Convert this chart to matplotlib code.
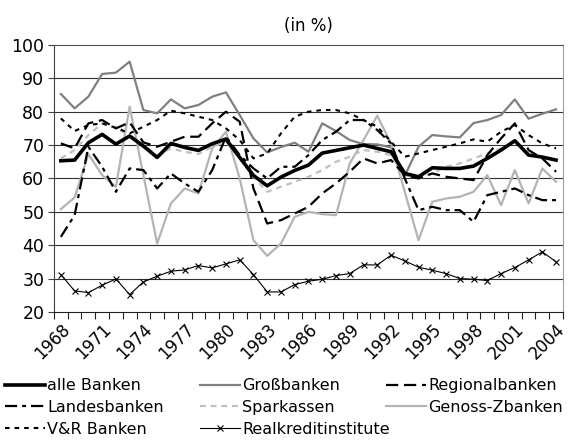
import matplotlib.pyplot as plt

plt.rcParams['font.family'] = ['DejaVu Sans']

years = list(range(1968, 2005))

alle_banken = [65.3, 65.5, 70.7, 73.2, 70.3, 72.7, 69.7, 66.3, 70.5, 69.3, 68.4, 70.4, 71.8, 66.3, 60.9, 57.8,
               60.4, 62.4, 64.0, 67.6, 68.4, 69.2, 70.0, 69.0, 68.0, 61.5, 60.5, 63.2, 63.0, 63.0, 63.7, 66.0,
               68.5, 71.3, 67.0, 66.4, 65.5]
grossbanken = [85.3, 81.0, 84.5, 91.3, 91.7, 95.0, 80.5, 79.5, 83.7, 81.0, 82.0, 84.5, 85.8, 79.0, 72.0, 67.8,
               69.4, 70.7, 68.0, 76.5, 74.2, 71.5, 70.3, 70.2, 69.3, 60.8, 69.5, 73.0, 72.6, 72.3, 76.6, 77.5,
               79.0, 83.7, 77.9, 79.4, 80.7]
regionalbanken = [70.5, 69.0, 76.5, 77.5, 75.0, 76.8, 70.8, 69.5, 71.0, 72.5, 72.5, 76.5, 80.0, 77.0, 57.0, 46.5,
                  47.5, 49.5, 51.5, 55.5, 58.5, 62.0, 66.0, 64.5, 65.5, 61.0, 60.0, 61.5, 60.5, 60.0, 59.5, 67.0,
                  72.0, 76.5, 68.5, 66.0, 62.0]
landesbanken = [42.5, 49.0, 69.5, 63.5, 56.0, 63.0, 62.5, 57.0, 61.5, 58.5, 56.0, 62.5, 72.5, 67.0, 63.0, 60.0,
                63.5, 63.5, 67.0, 71.5, 74.0, 77.5, 77.5, 74.5, 70.5, 60.0, 50.5, 51.5, 50.5, 50.5, 47.0, 55.0,
                56.0, 57.0, 55.0, 53.5, 53.5]
sparkassen = [66.0, 68.5, 73.0, 76.5, 75.0, 73.0, 70.0, 67.0, 69.0, 68.0, 67.3, 69.5, 71.0, 66.0, 60.5, 56.0,
              57.5, 59.0, 60.5, 62.5, 65.0, 66.5, 68.5, 68.0, 67.0, 61.0, 60.0, 61.5, 63.5, 64.5, 66.0, 67.5,
              69.0, 71.0, 67.5, 66.5, 65.5]
genoss_zbanken = [50.8, 54.3, 67.3, 61.0, 57.5, 81.5, 61.0, 40.5, 52.5, 57.0, 55.5, 69.0, 74.0, 60.0, 41.5, 36.8,
                  40.5, 48.5, 50.0, 49.3, 49.0, 64.5, 71.5, 78.8, 70.5, 56.0, 41.5, 53.0, 54.0, 54.5, 56.0, 61.0,
                  52.0, 62.5, 52.5, 63.0, 59.0]
vr_banken = [78.0, 74.2, 76.0, 76.5, 75.2, 73.5, 75.5, 77.5, 80.3, 79.5, 78.5, 77.5, 75.0, 71.5, 66.0, 67.5,
             73.5, 78.5, 80.0, 80.5, 80.5, 79.5, 77.5, 75.5, 71.0, 66.5, 67.5, 68.5, 69.5, 70.5, 71.7, 71.0,
             74.0, 76.0, 73.0, 70.5, 69.0]
realkredit = [31.2, 26.3, 25.8, 28.0, 29.9, 25.2, 29.0, 30.7, 32.2, 32.6, 33.9, 33.2, 34.4, 35.6, 31.2, 26.0,
              26.0, 28.2, 29.2, 29.8, 30.9, 31.5, 34.1, 34.1, 37.0, 35.3, 33.4, 32.5, 31.5, 30.0, 29.8, 29.4,
              31.5, 33.3, 35.6, 38.0, 35.0]

x = list(range(len(years)))

fig = plt.figure(figsize=(5.78, 4.45), dpi=100)
ax = fig.add_axes([0.0934, 0.299, 0.8806, 0.600])

# grid lines behind the data
for v in range(30, 100, 10):
    ax.axhline(v, color='#303030', lw=0.8, zorder=0)

ax.plot(x, grossbanken, color='#808080', lw=1.6, label='Großbanken')
ax.plot(x, genoss_zbanken, color='#b4b4b4', lw=1.6, label='Genoss-Zbanken')
ax.plot(x, sparkassen, color='#c0c0c0', lw=1.6, dashes=(2.6, 2.2), label='Sparkassen')
ax.plot(x, vr_banken, color='black', lw=1.5, dashes=(2.2, 2.4), label='V&R Banken')
ax.plot(x, landesbanken, color='black', lw=1.6, dashes=(5.5, 2.2, 1.8, 2.2), label='Landesbanken')
ax.plot(x, regionalbanken, color='black', lw=1.6, dashes=(5.5, 2.6), label='Regionalbanken')
ax.plot(x, alle_banken, color='black', lw=2.6, label='alle Banken')
ax.plot(x, realkredit, color='black', lw=0.8, marker='x', markersize=5, markeredgewidth=0.8,
        label='Realkreditinstitute')

ax.set_xlim(-0.5, len(years) - 0.5)
ax.set_ylim(20, 100)
ax.set_yticks(range(20, 101, 10))
ax.tick_params(axis='y', labelsize=12.5, length=4, width=0.8, color='#404040', pad=3)

ax.set_xticks(x[::3])
ax.set_xticklabels([str(y) for y in years[::3]], rotation=45, ha='right', va='top',
                   rotation_mode='anchor', fontsize=12)
ax.set_xticks([i - 0.5 for i in range(len(years) + 1)], minor=True)
ax.tick_params(axis='x', which='major', length=0, pad=6)
ax.tick_params(axis='x', which='minor', length=5, width=0.8, color='#202020')

ax.spines['left'].set_color('#404040')
ax.spines['bottom'].set_color('#202020')
ax.spines['top'].set_color('#505050')
ax.spines['right'].set_color('#a0a0a0')
for s in ax.spines.values():
    s.set_linewidth(0.8)

ax.set_title('(in %)', fontsize=12, pad=10)

# legend in three separate columns, placed like the original
handles, labels = ax.get_legend_handles_labels()
lookup = dict(zip(labels, handles))
columns = [
    (0.008, ['alle Banken', 'Landesbanken', 'V&R Banken']),
    (0.346, ['Großbanken', 'Sparkassen', 'Realkreditinstitute']),
    (0.668, ['Regionalbanken', 'Genoss-Zbanken']),
]
for xpos, names in columns:
    fig.legend([lookup[k] for k in names], names, loc='upper left', bbox_to_anchor=(xpos, 0.150),
               ncol=1, frameon=False, fontsize=11.5, handlelength=2.5, handletextpad=0.15,
               labelspacing=0.42, borderpad=0, borderaxespad=0)

fig.savefig('out.png', dpi=100)
